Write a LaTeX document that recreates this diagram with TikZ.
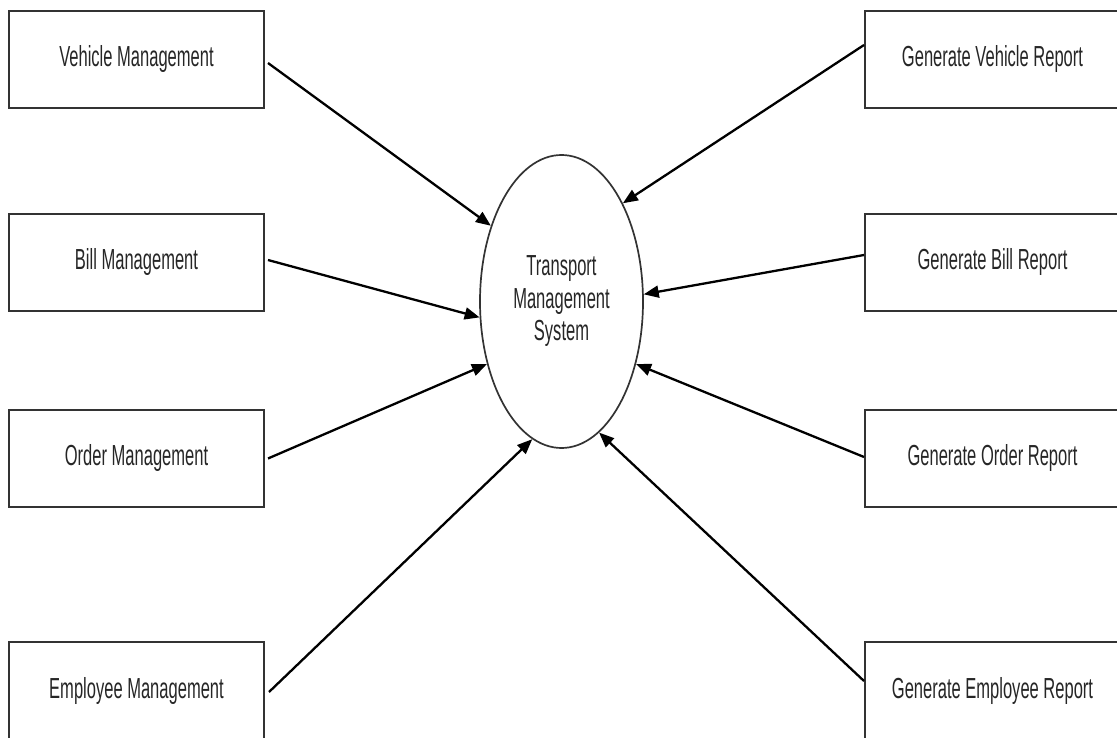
\documentclass[tikz,border=0pt]{standalone}
\usepackage{fontspec}
\setmainfont[FakeStretch=0.57]{Liberation Sans}
\usetikzlibrary{shapes.geometric,arrows.meta}
\begin{document}
\begin{tikzpicture}[x=1pt,y=-1pt,
  every node/.style={font=\fontsize{29}{32.5}\selectfont, text=black!85},
  module/.style={draw=black!80, line width=2pt, rectangle,
    minimum width=255pt, minimum height=97pt, inner sep=0pt},
  core/.style={draw=black!80, line width=1.7pt, ellipse,
    minimum width=163pt, minimum height=293pt, inner sep=0pt, align=center},
  flow/.style={draw=black, line width=2.3pt,
    -{Triangle[length=15pt,width=12pt]}}]
\useasboundingbox (0,0) rectangle (1117,738);
\clip (0,0) rectangle (1117,738);

% central process
\node[core] (tms) at (561.5,301.5) {Transport\\Management\\System};

% management modules (left)
\node[module] (vm) at (136.5,59.5)  {Vehicle Management};
\node[module] (bm) at (136.5,262.5) {Bill Management};
\node[module] (om) at (136.5,458.5) {Order Management};
\node[module] (em) at (136.5,690.5) {Employee Management};

% report modules (right)
\node[module] (vr) at (992.5,59.5)  {Generate Vehicle Report};
\node[module] (br) at (992.5,262.5) {Generate Bill Report};
\node[module] (or) at (992.5,458.5) {Generate Order Report};
\node[module] (er) at (992.5,690.5) {Generate Employee Report};

% flows into the system
\draw[flow] ([xshift=3pt,yshift=-3.5pt]vm.east) -- (tms.133);
\draw[flow] ([xshift=3pt,yshift=2.5pt]bm.east) -- (tms.191);
\draw[flow] ([xshift=3pt]om.east) -- (tms.220);
\draw[flow] ([xshift=4pt,yshift=-1.5pt]em.east) -- (tms.258);

\draw[flow] ([yshift=14.5pt]vr.west) -- (tms.58.4);
\draw[flow] ([yshift=7.5pt]br.west) -- (tms.5.2);
\draw[flow] ([yshift=1.5pt]or.west) -- (tms.320.5);
\draw[flow] ([yshift=9.5pt]er.west) -- (tms.286);
\end{tikzpicture}
\end{document}
